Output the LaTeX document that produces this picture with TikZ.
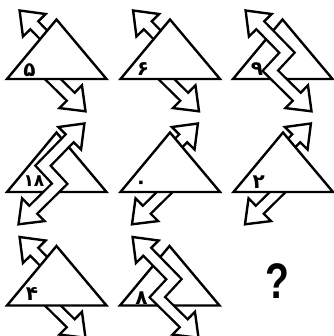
\documentclass[tikz,border=0pt]{standalone}
\usepackage{fontspec}
\newfontfamily\fa[Script=Arabic]{DejaVu Sans}
\newfontfamily\qfont{Liberation Sans}
\usetikzlibrary{calc}
\tikzset{
  ln/.style={line width=2.4pt, line join=miter, miter limit=10},
  trist/.style={ln, fill=white},
  shaftout/.style={line width=13.4pt, line join=miter, miter limit=10, black},
  shaftin/.style={line width=8.6pt, line join=miter, miter limit=10, white},
  headst/.style={ln, fill=white},
  dig/.style={font=\fa\bfseries\fontsize{20}{20}\selectfont, inner sep=0pt},
  digs/.style={font=\fa\bfseries\fontsize{17}{17}\selectfont, inner sep=0pt},
}
\newcommand{\zzarrow}[6]{%
  \coordinate (T1) at #1;
  \coordinate (B1) at #2;
  \coordinate (C1) at #3;
  \coordinate (C2) at #4;
  \coordinate (B2) at #5;
  \coordinate (T2) at #6;
  \draw[shaftout] (B1) -- (C1) -- (C2) -- (B2);
  \filldraw[headst] (T1) -- ($(B1)!16pt!90:(T1)$) -- ($(B1)!16pt!-90:(T1)$) -- cycle;
  \filldraw[headst] (T2) -- ($(B2)!16pt!90:(T2)$) -- ($(B2)!16pt!-90:(T2)$) -- cycle;
  \draw[shaftin] ($(B1)!2.5pt!180:(C1)$) -- (C1) -- (C2) -- ($(B2)!2.5pt!180:(C2)$);
}
\newcommand{\arrR}{\zzarrow{(19.6,10.5)}{(34.3,25.3)}{(61,52.7)}{(44.3,70.7)}{(70.7,96.7)}{(85.5,111.3)}}
\newcommand{\arrL}{\zzarrow{(84.4,10.5)}{(69.7,25.3)}{(43,52.7)}{(59.7,70.7)}{(33.3,96.7)}{(18.5,111.3)}}
\newcommand{\mytri}{\filldraw[trist] (7,79) -- (106.5,79) -- (56.5,19.5) -- cycle;}
\begin{document}
\begin{tikzpicture}[x=1pt,y=-1pt]
\useasboundingbox (0,0) rectangle (333,336);
% row 1
\begin{scope}[shift={(0,0)}]
  \arrR \mytri
  \node[dig] (d1) at (29.5,70) {۵};
\end{scope}
\begin{scope}[shift={(113.5,0)}]
  \arrR \mytri
  \node[dig] (d2) at (29.5,69.5) {۶};
\end{scope}
\begin{scope}[shift={(226,0)}]
  \mytri \arrR
  \node[dig] (d3) at (31,69) {۹};
\end{scope}
% row 2
\begin{scope}[shift={(0,113)}]
  \mytri \arrL
  \node[digs] (d4) at (34,68) {۱۸};
\end{scope}
\begin{scope}[shift={(113.5,113)}]
  \arrL \mytri
  \node[dig] (d5) at (27.5,71.7) {۰};
\end{scope}
\begin{scope}[shift={(226.5,113)}]
  \arrL \mytri
  \node[dig] (d6) at (32.2,69) {۲};
\end{scope}
% row 3
\begin{scope}[shift={(0,226.5)}]
  \arrR \mytri
  \node[dig] (d7) at (32,67.5) {۴};
\end{scope}
\begin{scope}[shift={(113,226.5)}]
  \mytri \arrR
  \node[dig] (d8) at (28.5,72) {۸};
\end{scope}
\node[font=\qfont\bfseries\fontsize{50}{50}\selectfont, inner sep=0pt] (q) at (277,281) {\scalebox{0.78}[1]{?}};
\end{tikzpicture}
\end{document}
